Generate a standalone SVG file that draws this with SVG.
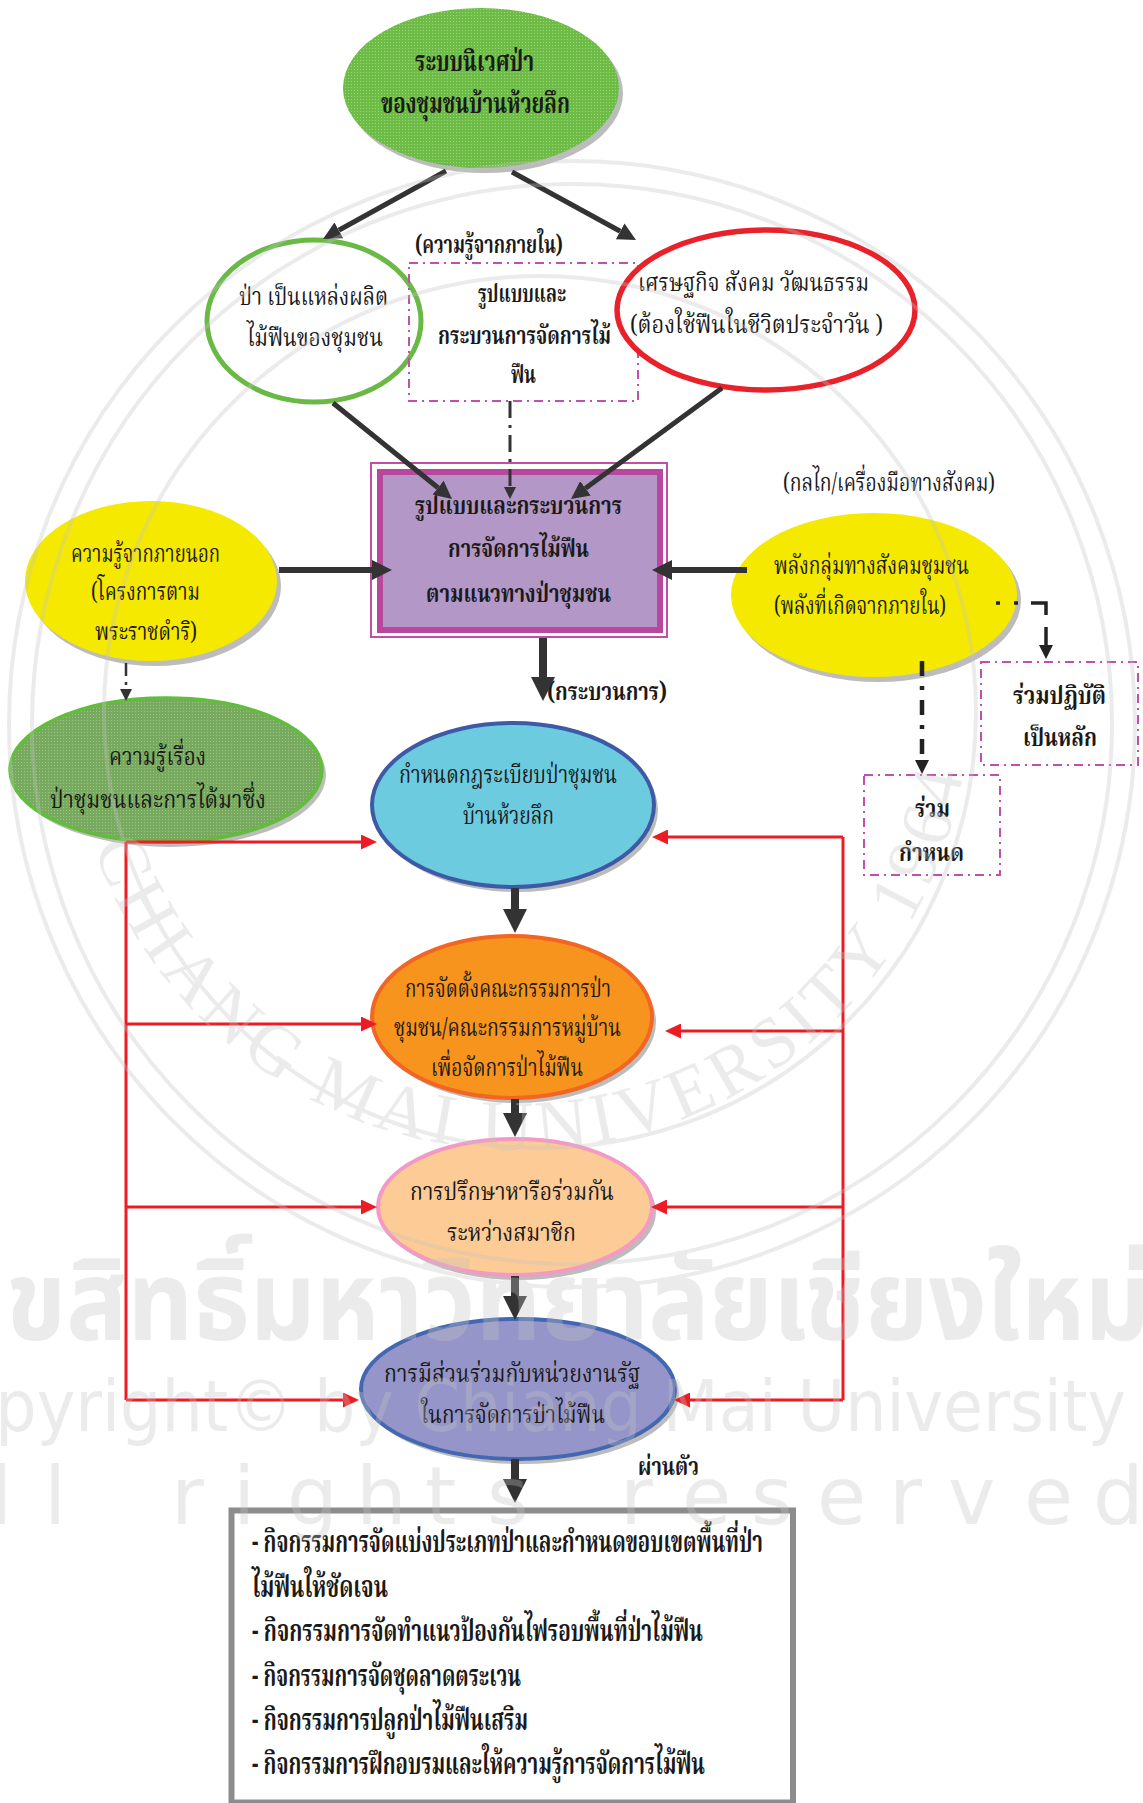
<svg xmlns="http://www.w3.org/2000/svg" width="1143" height="1803" viewBox="0 0 1143 1803">
<style>
.t{font-family:"Noto Serif Thai","Noto Sans Thai","Noto Sans","DejaVu Sans",sans-serif;font-size:25px;fill:#1a1a1a;}
.b{font-weight:bold;}
.big{font-size:28px;}
.box{font-size:30px;}
.dk{stroke:#333;fill:none;}
.rd{stroke:#ec1c24;stroke-width:3;fill:none;}
.dsh{fill:none;stroke:#c24fae;stroke-width:2;stroke-dasharray:9 5 2 5;}
.sh{fill:#bcbcbc;}
.wm{font-family:"Noto Sans Thai","Noto Sans","DejaVu Sans",sans-serif;font-weight:bold;fill:#c4c4c4;}
.wme{font-family:"DejaVu Sans","Liberation Sans",sans-serif;fill:#c4c4c4;}
</style>
<defs>
<pattern id="dotG" width="3" height="3" patternUnits="userSpaceOnUse"><rect width="3" height="3" fill="#6cbc45"/><rect width="1" height="1" fill="#9ed37f"/></pattern>
<pattern id="gridG" width="3" height="3" patternUnits="userSpaceOnUse"><rect width="3" height="3" fill="#77a95e"/><rect width="1" height="1" fill="#9cc585"/></pattern>
<marker id="mA" markerUnits="userSpaceOnUse" markerWidth="18" markerHeight="18" viewBox="0 0 18 18" refX="0" refY="9" orient="auto"><path d="M0,0 L18,9 L0,18 z" fill="#333"/></marker>
<marker id="mH" markerUnits="userSpaceOnUse" markerWidth="20" markerHeight="20" viewBox="0 0 20 20" refX="0" refY="10" orient="auto"><path d="M0,0 L20,10 L0,20 z" fill="#333"/></marker>
<marker id="mB" markerUnits="userSpaceOnUse" markerWidth="24" markerHeight="24" viewBox="0 0 24 24" refX="0" refY="12" orient="auto"><path d="M0,0 L24,12 L0,24 z" fill="#333"/></marker>
<marker id="mR" markerUnits="userSpaceOnUse" markerWidth="16" markerHeight="15" viewBox="0 0 16 15" refX="0" refY="7.5" orient="auto"><path d="M0,0 L16,7.5 L0,15 z" fill="#ec1c24"/></marker>
<marker id="mD" markerUnits="userSpaceOnUse" markerWidth="12" markerHeight="12" viewBox="0 0 12 12" refX="0" refY="6" orient="auto"><path d="M0,0 L12,6 L0,12 z" fill="#333"/></marker>
<marker id="mD2" markerUnits="userSpaceOnUse" markerWidth="14" markerHeight="14" viewBox="0 0 14 14" refX="0" refY="7" orient="auto"><path d="M0,0 L14,7 L0,14 z" fill="#222"/></marker>
<path id="arcTxt" d="M93.5,846.5 A450,450 0 0 0 967.3,739.2"/>
</defs>
<rect width="1143" height="1803" fill="#fff"/>

<g id="n-top">
<ellipse class="sh" cx="485" cy="93" rx="138" ry="80"/>
<ellipse cx="481" cy="88" rx="138" ry="80" fill="url(#dotG)"/>
<text class="t b big" x="415" y="71" textLength="119" lengthAdjust="spacingAndGlyphs">ระบบนิเวศป่า</text>
<text class="t b big" x="381" y="113" textLength="189" lengthAdjust="spacingAndGlyphs">ของชุมชนบ้านห้วยลึก</text>
</g>

<g id="n-forest">
<ellipse cx="314" cy="321" rx="107" ry="81" fill="#fff" stroke="#6ab945" stroke-width="5"/>
<text class="t" x="239" y="305" textLength="149" lengthAdjust="spacingAndGlyphs">ป่า เป็นแหล่งผลิต</text>
<text class="t" x="247" y="346" textLength="136" lengthAdjust="spacingAndGlyphs">ไม้ฟืนของชุมชน</text>
</g>

<g id="n-inner">
<text class="t b" x="415" y="253" textLength="148" lengthAdjust="spacingAndGlyphs">(ความรู้จากภายใน)</text>
<rect class="dsh" x="409" y="263" width="229" height="138"/>
<text class="t b" x="478" y="302" textLength="88" lengthAdjust="spacingAndGlyphs">รูปแบบและ</text>
<text class="t b" x="438" y="344" textLength="173" lengthAdjust="spacingAndGlyphs">กระบวนการจัดการไม้</text>
<text class="t b" x="511" y="383" textLength="25" lengthAdjust="spacingAndGlyphs">ฟืน</text>
</g>

<g id="n-econ">
<ellipse cx="766" cy="310" rx="149" ry="80" fill="#fff" stroke="#e8212a" stroke-width="5.5"/>
<text class="t" x="638" y="291" textLength="231" lengthAdjust="spacingAndGlyphs">เศรษฐกิจ สังคม วัฒนธรรม</text>
<text class="t" x="630" y="333" textLength="253" lengthAdjust="spacingAndGlyphs">(ต้องใช้ฟืนในชีวิตประจำวัน )</text>
</g>

<g id="n-center">
<rect x="371" y="463" width="296" height="174" fill="none" stroke="#c04ea2" stroke-width="2"/>
<rect x="380" y="472" width="280" height="158" fill="#b397c7" stroke="#b8489d" stroke-width="6"/>
<text class="t b" x="415" y="514" textLength="207" lengthAdjust="spacingAndGlyphs">รูปแบบและกระบวนการ</text>
<text class="t b" x="448" y="557" textLength="141" lengthAdjust="spacingAndGlyphs">การจัดการไม้ฟืน</text>
<text class="t b" x="426" y="602" textLength="185" lengthAdjust="spacingAndGlyphs">ตามแนวทางป่าชุมชน</text>
</g>

<g id="n-outer">
<ellipse class="sh" cx="155" cy="586" rx="126" ry="80"/>
<ellipse cx="151" cy="581" rx="126" ry="80" fill="#f5e900"/>
<text class="t" x="71" y="562" textLength="149" lengthAdjust="spacingAndGlyphs">ความรู้จากภายนอก</text>
<text class="t" x="91" y="600" textLength="109" lengthAdjust="spacingAndGlyphs">(โครงการตาม</text>
<text class="t" x="95" y="640" textLength="102" lengthAdjust="spacingAndGlyphs">พระราชดำริ)</text>
</g>

<g id="n-social">
<text class="t" x="783" y="491" textLength="212" lengthAdjust="spacingAndGlyphs">(กลไก/เครื่องมือทางสังคม)</text>
<ellipse class="sh" cx="878" cy="600" rx="143" ry="82"/>
<ellipse cx="874" cy="595" rx="143" ry="82" fill="#f5e900"/>
<text class="t" x="774" y="574" textLength="195" lengthAdjust="spacingAndGlyphs">พลังกลุ่มทางสังคมชุมชน</text>
<text class="t" x="774" y="614" textLength="172" lengthAdjust="spacingAndGlyphs">(พลังที่เกิดจากภายใน)</text>
</g>

<g id="n-practice">
<rect class="dsh" x="981" y="662" width="157" height="103"/>
<text class="t b" x="1013" y="704" textLength="93" lengthAdjust="spacingAndGlyphs">ร่วมปฏิบัติ</text>
<text class="t b" x="1023" y="746" textLength="74" lengthAdjust="spacingAndGlyphs">เป็นหลัก</text>
</g>

<g id="n-define">
<rect class="dsh" x="864" y="775" width="136" height="100"/>
<text class="t b" x="915" y="817" textLength="35" lengthAdjust="spacingAndGlyphs">ร่วม</text>
<text class="t b" x="899" y="861" textLength="65" lengthAdjust="spacingAndGlyphs">กำหนด</text>
</g>

<g id="n-knowledge">
<ellipse class="sh" cx="170" cy="775" rx="156" ry="72"/>
<ellipse cx="166" cy="770" rx="156" ry="72" fill="url(#gridG)" stroke="#62bd3d" stroke-width="3.5"/>
<text class="t" x="109" y="765" textLength="97" lengthAdjust="spacingAndGlyphs">ความรู้เรื่อง</text>
<text class="t" x="50" y="808" textLength="216" lengthAdjust="spacingAndGlyphs">ป่าชุมชนและการได้มาซึ่ง</text>
</g>

<g id="n-process-label">
<text class="t b" x="547" y="700" textLength="120" lengthAdjust="spacingAndGlyphs">(กระบวนการ)</text>
</g>

<g id="n-rules">
<ellipse class="sh" cx="517" cy="810" rx="141" ry="82"/>
<ellipse cx="513" cy="805" rx="141" ry="82" fill="#6ccbdf" stroke="#3e5aa6" stroke-width="4"/>
<text class="t" x="399" y="783" textLength="218" lengthAdjust="spacingAndGlyphs">กำหนดกฎระเบียบป่าชุมชน</text>
<text class="t" x="463" y="824" textLength="91" lengthAdjust="spacingAndGlyphs">บ้านห้วยลึก</text>
</g>

<g id="n-committee">
<ellipse class="sh" cx="516" cy="1022" rx="140" ry="81"/>
<ellipse cx="512" cy="1017" rx="140" ry="81" fill="#f7941e" stroke="#f26522" stroke-width="4"/>
<text class="t" x="405" y="997" textLength="206" lengthAdjust="spacingAndGlyphs">การจัดตั้งคณะกรรมการป่า</text>
<text class="t" x="394" y="1036" textLength="227" lengthAdjust="spacingAndGlyphs">ชุมชน/คณะกรรมการหมู่บ้าน</text>
<text class="t" x="431" y="1076" textLength="152" lengthAdjust="spacingAndGlyphs">เพื่อจัดการป่าไม้ฟืน</text>
</g>

<g id="n-consult">
<ellipse class="sh" cx="519" cy="1212" rx="137" ry="68"/>
<ellipse cx="515" cy="1207" rx="137" ry="68" fill="#fdcb95" stroke="#f29ac3" stroke-width="4"/>
<text class="t" x="410" y="1200" textLength="204" lengthAdjust="spacingAndGlyphs">การปรึกษาหารือร่วมกัน</text>
<text class="t" x="447" y="1241" textLength="129" lengthAdjust="spacingAndGlyphs">ระหว่างสมาชิก</text>
</g>

<g id="n-state">
<ellipse class="sh" cx="522" cy="1394" rx="157" ry="70"/>
<ellipse cx="518" cy="1389" rx="157" ry="70" fill="#9595c9" stroke="#4467b2" stroke-width="4"/>
<text class="t" x="384" y="1382" textLength="256" lengthAdjust="spacingAndGlyphs">การมีส่วนร่วมกับหน่วยงานรัฐ</text>
<text class="t" x="421" y="1423" textLength="184" lengthAdjust="spacingAndGlyphs">ในการจัดการป่าไม้ฟืน</text>
</g>

<g id="n-via">
<text class="t b" x="638" y="1475" textLength="61" lengthAdjust="spacingAndGlyphs">ผ่านตัว</text>
</g>

<g id="n-activities">
<rect x="231.5" y="1510.5" width="561.5" height="292" fill="#fff" stroke="#8c8c8c" stroke-width="6"/>
<text class="t b box" x="252" y="1552" textLength="511" lengthAdjust="spacingAndGlyphs">- กิจกรรมการจัดแบ่งประเภทป่าและกำหนดขอบเขตพื้นที่ป่า</text>
<text class="t b box" x="252" y="1597" textLength="136" lengthAdjust="spacingAndGlyphs">ไม้ฟืนให้ชัดเจน</text>
<text class="t b box" x="252" y="1641" textLength="451" lengthAdjust="spacingAndGlyphs">- กิจกรรมการจัดทำแนวป้องกันไฟรอบพื้นที่ป่าไม้ฟืน</text>
<text class="t b box" x="252" y="1686" textLength="269" lengthAdjust="spacingAndGlyphs">- กิจกรรมการจัดชุดลาดตระเวน</text>
<text class="t b box" x="252" y="1730" textLength="276" lengthAdjust="spacingAndGlyphs">- กิจกรรมการปลูกป่าไม้ฟืนเสริม</text>
<text class="t b box" x="252" y="1774" textLength="453" lengthAdjust="spacingAndGlyphs">- กิจกรรมการฝึกอบรมและให้ความรู้การจัดการไม้ฟืน</text>
</g>

<g id="connectors">
<path class="dk" stroke-width="5" d="M446,171 L338.8,230.3" marker-end="url(#mA)"/>
<path class="dk" stroke-width="5" d="M512,172 L620.2,231.3" marker-end="url(#mA)"/>
<path class="dk" stroke-width="5" d="M333,403 L438,487.7" marker-end="url(#mA)"/>
<path class="dk" stroke-width="5" d="M722,388 L585.5,488.3" marker-end="url(#mA)"/>
<path class="dk" stroke-width="6" d="M279,570 H372" marker-end="url(#mH)"/>
<path class="dk" stroke-width="6" d="M747,570 H672" marker-end="url(#mH)"/>
<path class="dk" stroke-width="8" d="M543,638 V677" marker-end="url(#mB)"/>
<path class="dk" stroke-width="8" d="M515,888 V909" marker-end="url(#mB)"/>
<path class="dk" stroke-width="8" d="M515,1099 V1113" marker-end="url(#mB)"/>
<path class="dk" stroke-width="8" d="M515,1276 V1296" marker-end="url(#mB)"/>
<path class="dk" stroke-width="8" d="M515,1459 V1479" marker-end="url(#mB)"/>
<path class="dk" stroke-width="3" stroke-dasharray="17 7 3 7" d="M510,401 V487" marker-end="url(#mD)"/>
<path class="dk" stroke-width="2.5" stroke-dasharray="13 6 3 6" d="M126,663 V689" marker-end="url(#mD)"/>
<path stroke="#222" fill="none" stroke-width="4.5" stroke-dasharray="15 10 4 10" d="M922,661 V760" marker-end="url(#mD2)"/>
<path stroke="#222" fill="none" stroke-width="3.5" stroke-dasharray="4 14 4 13 27 12 30" d="M996,603 H1046 V645" marker-end="url(#mD2)"/>
<path class="rd" d="M126,842 V1400"/>
<path class="rd" d="M126,842 H361" marker-end="url(#mR)"/>
<path class="rd" d="M126,1024 H361" marker-end="url(#mR)"/>
<path class="rd" d="M126,1207 H361" marker-end="url(#mR)"/>
<path class="rd" d="M126,1400 H343" marker-end="url(#mR)"/>
<path class="rd" d="M843,837 V1400"/>
<path class="rd" d="M843,837 H668" marker-end="url(#mR)"/>
<path class="rd" d="M843,1031 H681" marker-end="url(#mR)"/>
<path class="rd" d="M843,1207 H667" marker-end="url(#mR)"/>
<path class="rd" d="M843,1400 H690" marker-end="url(#mR)"/>
</g>

<g id="watermark" opacity="0.32">
<circle cx="572" cy="724" r="563" fill="none" stroke="#c4c4c4" stroke-width="4"/>
<circle cx="572" cy="724" r="540" fill="none" stroke="#c4c4c4" stroke-width="4"/>
<circle cx="540" cy="712" r="436" fill="none" stroke="#c4c4c4" stroke-width="4"/>
<text style="font-family:'Liberation Serif',serif;font-size:72px;fill:#c4c4c4"><textPath href="#arcTxt" textLength="1190" lengthAdjust="spacing">CHIANG MAI UNIVERSITY 1964</textPath></text>
<text class="wm" x="-55" y="1340" font-size="112" textLength="1205" lengthAdjust="spacingAndGlyphs">ลิขสิทธิ์มหาวิทยาลัยเชียงใหม่</text>
<text class="wme" x="-90" y="1431" font-size="72" textLength="1216" lengthAdjust="spacingAndGlyphs">Copyright© by Chiang Mai University</text>
<text class="wme" y="1524" font-size="80" x="-75 -10 44 110 171 233 287 356 425 487 560 620 682 751 817 889 948 1024 1093">All rights reserved</text>
</g>
</svg>
